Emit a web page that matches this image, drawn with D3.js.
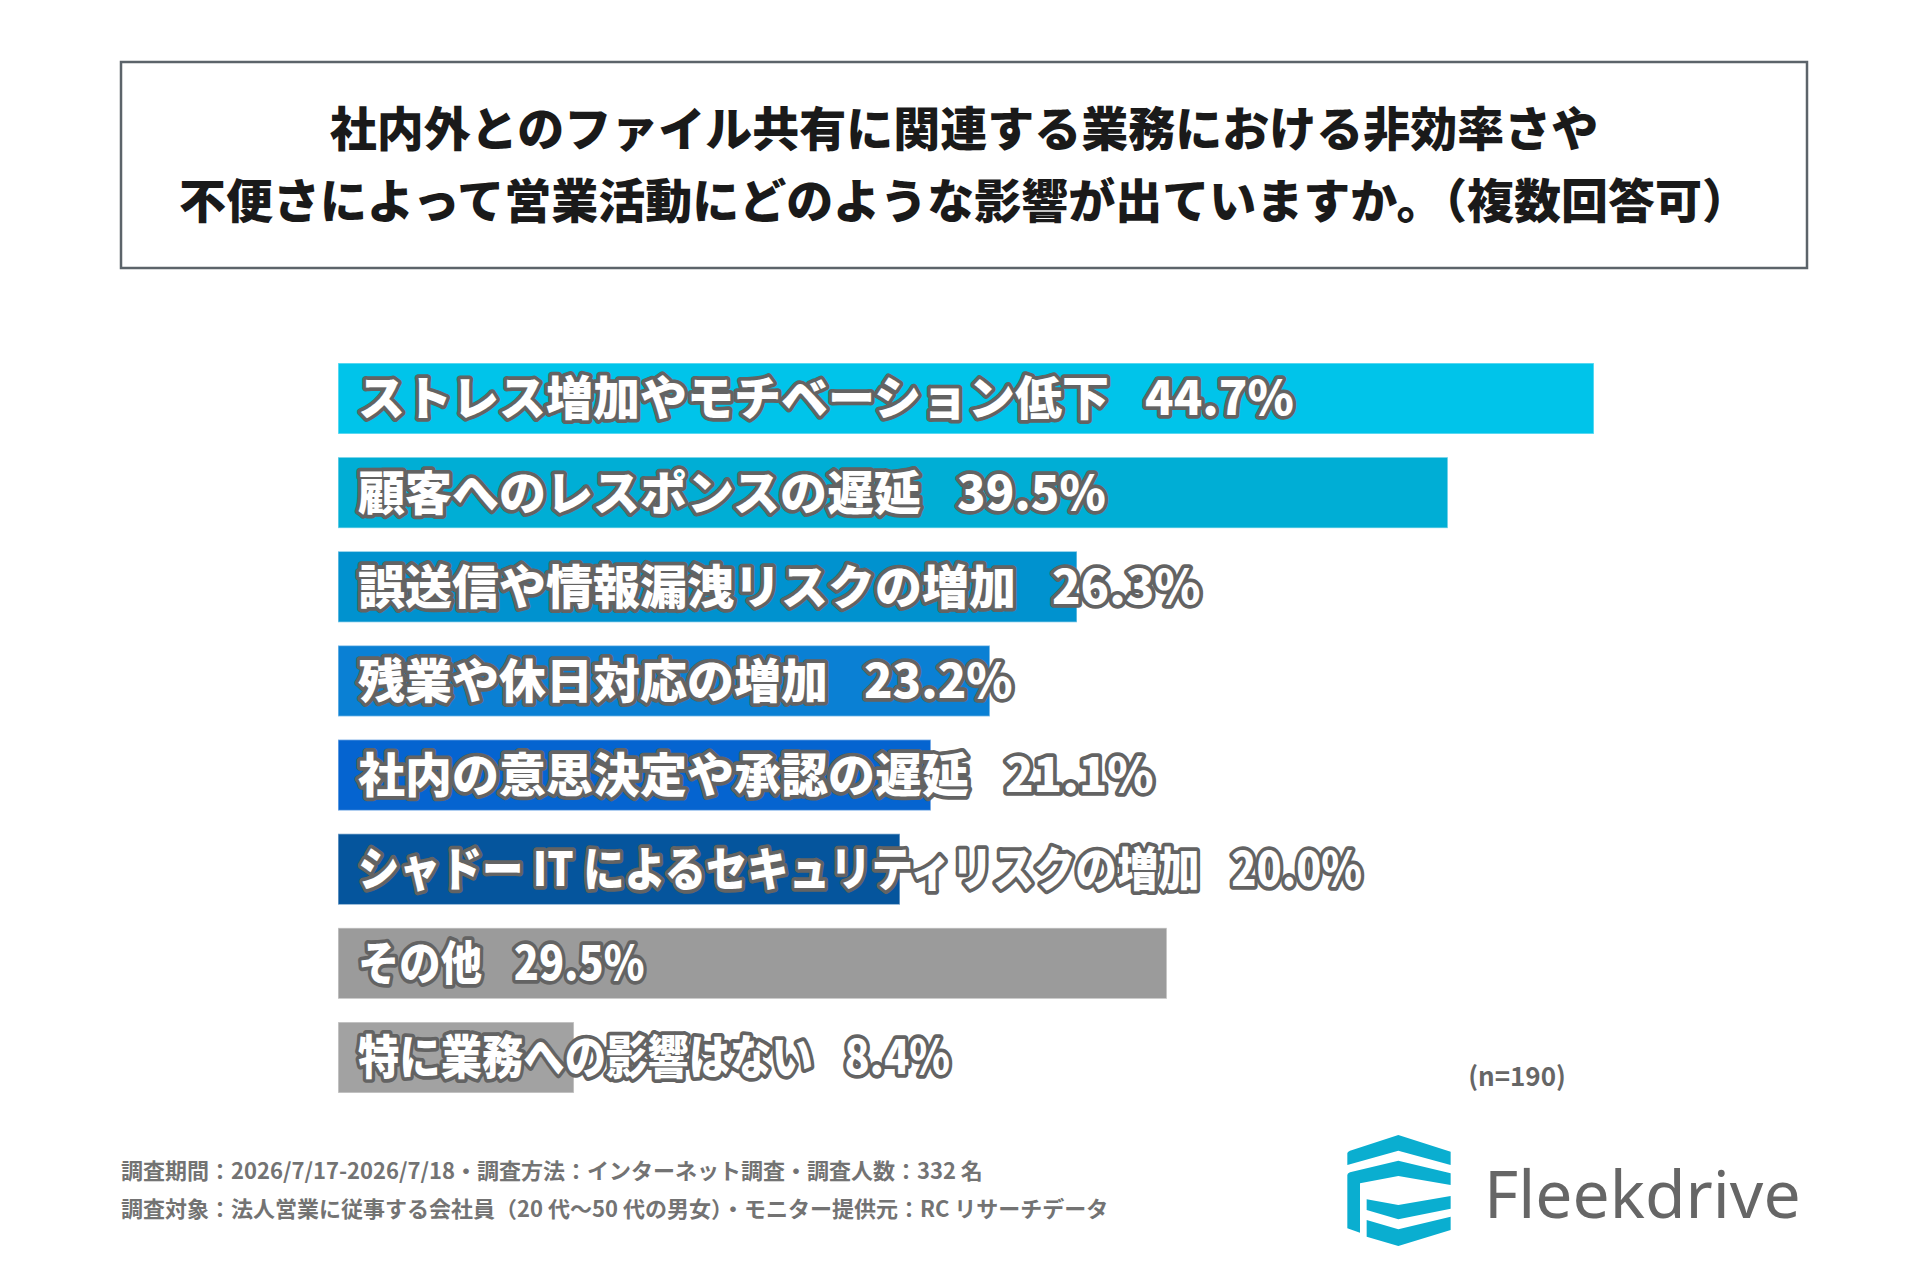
<!DOCTYPE html>
<html>
<head>
<meta charset="utf-8">
<script src="https://cdn.jsdelivr.net/npm/d3@7"></script>
<style>
  body { margin: 0; background: #fff; }
  svg { display: block; }
</style>
</head>
<body>
<svg id="chart" width="1920" height="1280"></svg>
<script>
// data
var categories = [
  "ストレス増加やモチベーション低下",
  "顧客へのレスポンスの遅延",
  "誤送信や情報漏洩リスクの増加",
  "残業や休日対応の増加",
  "社内の意思決定や承認の遅延",
  "シャドー IT によるセキュリティリスクの増加",
  "その他",
  "特に業務への影響はない"
];
var values = [44.7, 39.5, 26.3, 23.2, 21.1, 20.0, 29.5, 8.4];
var barColors = ["#00c4ea", "#00aed5", "#0092cf", "#0a80d4", "#0564d0", "#05559d", "#9b9b9b", "#a2a2a2"];
var titleLines = [
  "社内外とのファイル共有に関連する業務における非効率さや",
  "不便さによって営業活動にどのような影響が出ていますか。（複数回答可）"
];
var noteLines = [
  "調査期間：2026/7/17-2026/7/18・調査方法：インターネット調査・調査人数：332 名",
  "調査対象：法人営業に従事する会社員（20 代～50 代の男女）・モニター提供元：RC リサーチデータ"
];
var sampleNote = "(n=190)";

var svg = d3.select("#chart");
var jp = "'Noto Sans CJK JP', 'Noto Sans', sans-serif";

// title box
svg.append("rect")
  .attr("x", 121).attr("y", 62)
  .attr("width", 1686).attr("height", 206)
  .attr("fill", "#fff")
  .attr("stroke", "#5c646a")
  .attr("stroke-width", 2.5);

svg.append("g").selectAll("text")
  .data(titleLines)
  .enter()
  .append("text")
  .attr("x", 964)
  .attr("y", function(d, i) { return 146 + i * 72; })
  .attr("text-anchor", "middle")
  .style("font-family", jp)
  .style("font-weight", 800)
  .style("font-size", "47px")
  .style("fill", "#1a1a1a")
  .text(function(d) { return d; });

// scales
var x = d3.scaleLinear()
  .domain([0, 44.7])
  .range([338, 1594]);

var y = d3.scaleBand()
  .domain(categories)
  .range([363, 1093])
  .paddingInner(0.246)
  .paddingOuter(0);

var g = svg.append("g");

g.selectAll("rect")
  .data(categories)
  .enter()
  .append("rect")
  .attr("x", x(0))
  .attr("y", function(d) { return y(d); })
  .attr("width", function(d, i) { return x(values[i]) - x(0); })
  .attr("height", y.bandwidth())
  .attr("fill", function(d, i) { return barColors[i]; })
  .attr("stroke", "rgba(255,255,255,0.45)")
  .attr("stroke-width", 1.5);

// the last three rows use a narrower lettering in the original
var labels = g.selectAll("text")
  .data(categories)
  .enter()
  .append("text")
  .attr("transform", function(d, i) {
    var sx = i >= 5 ? 0.88 : 1;
    return "translate(358," + (y(d) + y.bandwidth() / 2) + ") scale(" + sx + ",1)";
  })
  .attr("dy", "0.36em")
  .style("font-family", jp)
  .style("font-weight", 900)
  .style("font-size", "47px")
  .style("fill", "#fff")
  .style("stroke", "#636363")
  .style("stroke-width", 7.5)
  .style("stroke-linejoin", "round")
  .style("paint-order", "stroke");

labels.append("tspan")
  .text(function(d) { return d; });
labels.append("tspan")
  .attr("dx", 36)
  .text(function(d, i) { return d3.format(".1f")(values[i]) + "%"; });

// n note
svg.append("text")
  .attr("x", 1517).attr("y", 1086)
  .attr("text-anchor", "middle")
  .style("font-family", jp)
  .style("font-weight", 700)
  .style("font-size", "26px")
  .style("fill", "#666")
  .text(sampleNote);

// survey notes
svg.append("g").selectAll("text")
  .data(noteLines)
  .enter()
  .append("text")
  .attr("x", 121)
  .attr("y", function(d, i) { return 1179 + i * 38; })
  .style("font-family", jp)
  .style("font-weight", 700)
  .style("font-size", "22px")
  .style("fill", "#737373")
  .text(function(d) { return d; });

// logo
var logo = svg.append("g").attr("transform", "translate(1330,1120) scale(0.3333)");
var logoShapes = [
  "M52,100 Q52,95 60,92 L205,45 L362,95 L362,135 L205,92 L52,135 Z",
  "M52,165 Q52,160 60,157 L205,122 L362,160 L362,195 L205,168 L90,190 L90,338 L52,325 Z",
  "M110,238 L205,255 L362,228 L362,266 L205,298 L110,270 Z",
  "M110,300 L205,328 L362,290 L362,330 L205,378 L110,350 Z"
];
logo.selectAll("path")
  .data(logoShapes)
  .enter()
  .append("path")
  .attr("d", function(d) { return d; })
  .attr("fill", "#0aaed0");

svg.append("text")
  .attr("x", 1484).attr("y", 1218)
  .style("font-family", "'Noto Sans', sans-serif")
  .style("font-weight", 400)
  .style("font-size", "66px")
  .style("fill", "#666")
  .text("Fleekdrive");
</script>
</body>
</html>
